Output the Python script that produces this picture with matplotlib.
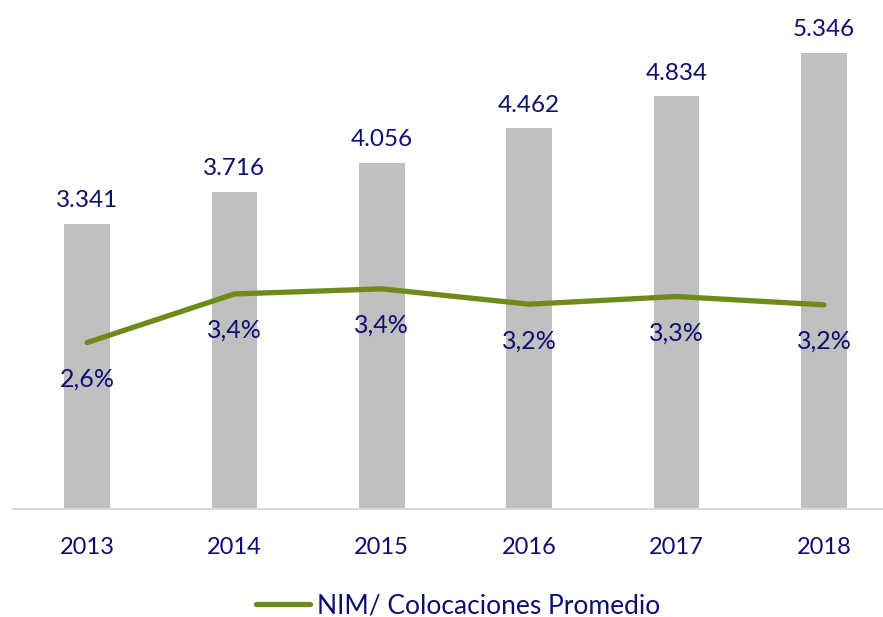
import matplotlib.pyplot as plt
from matplotlib.lines import Line2D

years = ['2013', '2014', '2015', '2016', '2017', '2018']
colocaciones = [3.341, 3.716, 4.056, 4.462, 4.834, 5.346]
nim_pct = [2.6, 3.36, 3.44, 3.20, 3.32, 3.19]
bar_labels = ['3.341', '3.716', '4.056', '4.462', '4.834', '5.346']
nim_labels = ['2,6%', '3,4%', '3,4%', '3,2%', '3,3%', '3,2%']

NAVY = '#0E0E6E'
GREEN = '#6E8A18'
BAR_GRAY = '#BFBFBF'

plt.rcParams['font.family'] = ['Lato', 'DejaVu Sans']

W, H = 883, 617
fig = plt.figure(figsize=(W / 100, H / 100), dpi=100, facecolor='w')

# axes: baseline at y=509 px, 0..6 spans 512 px; categories 147.4 px apart
left_px = 13.3
ax = fig.add_axes([left_px / W, (H - 509) / H, 147.4 * 6 / W, 512 / H])
x = list(range(len(years)))
ax.bar(x, colocaciones, width=0.31, color=BAR_GRAY, zorder=2)
ax.set_xlim(-0.5, 5.5)
ax.set_ylim(0, 6)

for i, lab in enumerate(bar_labels):
    ax.annotate(lab, (x[i], colocaciones[i]), xytext=(0, 9), textcoords='offset points',
                ha='center', va='bottom', color=NAVY, fontsize=17.5, clip_on=False)

ax.set_xticks(x)
ax.set_xticklabels(years, color=NAVY, fontsize=17)
ax.tick_params(axis='x', length=0, pad=20)
ax.set_yticks([])
for spine in ('top', 'right', 'left'):
    ax.spines[spine].set_visible(False)
ax.spines['bottom'].set_color('#D9D9D9')
ax.spines['bottom'].set_linewidth(1.5)

ax2 = ax.twinx()
ax2.set_ylim(0, 8)
ax2.plot(x, nim_pct, color=GREEN, lw=3.8, solid_capstyle='round', zorder=3)
for i, lab in enumerate(nim_labels):
    ax2.annotate(lab, (x[i], nim_pct[i]), xytext=(0, -18), textcoords='offset points',
                 ha='center', va='top', color=NAVY, fontsize=18)
ax2.set_yticks([])
for spine in ('top', 'right', 'left', 'bottom'):
    ax2.spines[spine].set_visible(False)

handle = Line2D([], [], color=GREEN, lw=3.8, solid_capstyle='round')
fig.legend([handle], ['NIM/ Colocaciones Promedio'], loc='center', bbox_to_anchor=(458 / W, 1 - 606 / H),
           frameon=False, fontsize=19, labelcolor=NAVY, handlelength=2.05, handletextpad=0.25)

fig.savefig('out.png', dpi=100)
